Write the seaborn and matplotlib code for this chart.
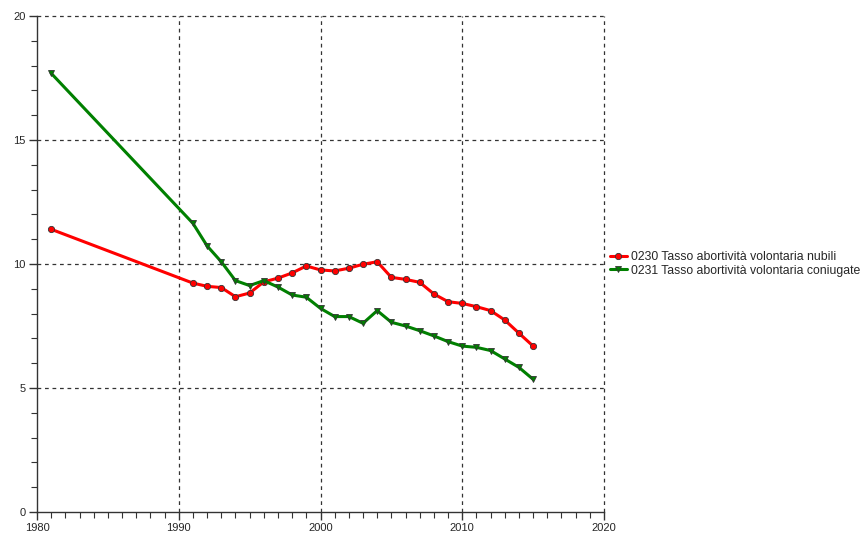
import numpy as np
import pandas as pd
import seaborn as sns
import matplotlib as mpl
from matplotlib import pyplot as plt
from matplotlib.ticker import MultipleLocator

years = [1981] + list(range(1991, 2016))
nubili = [11.4, 9.23, 9.1, 9.05, 8.68, 8.83, 9.28, 9.43, 9.64, 9.92, 9.76,
          9.72, 9.83, 9.99, 10.09, 9.46, 9.38, 9.26, 8.79, 8.48, 8.41,
          8.28, 8.12, 7.74, 7.21, 6.69]
coniugate = [17.69, 11.64, 10.73, 10.09, 9.33, 9.13, 9.33, 9.07, 8.75, 8.66,
             8.21, 7.88, 7.88, 7.61, 8.12, 7.65, 7.5, 7.31, 7.1, 6.87, 6.69,
             6.64, 6.51, 6.17, 5.83, 5.35]
series_names = ["0230 Tasso abortività volontaria nubili",
                "0231 Tasso abortività volontaria coniugate"]

df = pd.DataFrame({
    "anno": years * 2,
    "valore": nubili + coniugate,
    "serie": [series_names[0]] * len(years) + [series_names[1]] * len(years),
})

sns.set_style("ticks")
plt.rcParams["font.family"] = ["Liberation Sans", "DejaVu Sans"]

fig = plt.figure(figsize=(8.63, 5.36), dpi=100)
ax = fig.add_axes([37 / 863, 1 - 512 / 536, (604 - 37) / 863, (512 - 16) / 536])

palette = {series_names[0]: "#ff0000", series_names[1]: "#008000"}
markers = {series_names[0]: "o", series_names[1]: "v"}
sns.lineplot(data=df, x="anno", y="valore", hue="serie", style="serie",
             palette=palette, markers=markers, dashes=False, linewidth=2.2,
             markersize=4.5, markeredgecolor="#333333", markeredgewidth=0.6,
             ax=ax, legend="full")

ax.set_xlim(1980, 2020)
ax.set_ylim(0, 20)
ax.xaxis.set_major_locator(MultipleLocator(10))
ax.xaxis.set_minor_locator(MultipleLocator(1))
ax.yaxis.set_major_locator(MultipleLocator(5))
ax.yaxis.set_minor_locator(MultipleLocator(1))
ax.tick_params(axis="both", which="major", length=6, width=1, labelsize=8,
               color="#333333", pad=2)
ax.tick_params(axis="both", which="minor", length=4, width=0.8, color="#333333")
ax.set_xlabel("")
ax.set_ylabel("")

# dashed grid on major ticks, drawn by hand so the edge lines stay visible
for x in [1990, 2000, 2010, 2020]:
    ax.axvline(x, color="#333333", linestyle=(0, (3, 3)), linewidth=0.9,
               zorder=0, clip_on=False)
for y in [5, 10, 15, 20]:
    ax.axhline(y, color="#333333", linestyle=(0, (3, 3)), linewidth=0.9,
               zorder=0, clip_on=False)

sns.despine(ax=ax)
for s in ["left", "bottom"]:
    ax.spines[s].set_color("#333333")
    ax.spines[s].set_linewidth(1)

ax.legend(loc="center left", bbox_to_anchor=(0.995, 0.5), frameon=False,
          fontsize=8.8, handlelength=1.4, handletextpad=0.35,
          borderaxespad=0.3, labelspacing=0.1)

fig.savefig("out.png", dpi=100)
